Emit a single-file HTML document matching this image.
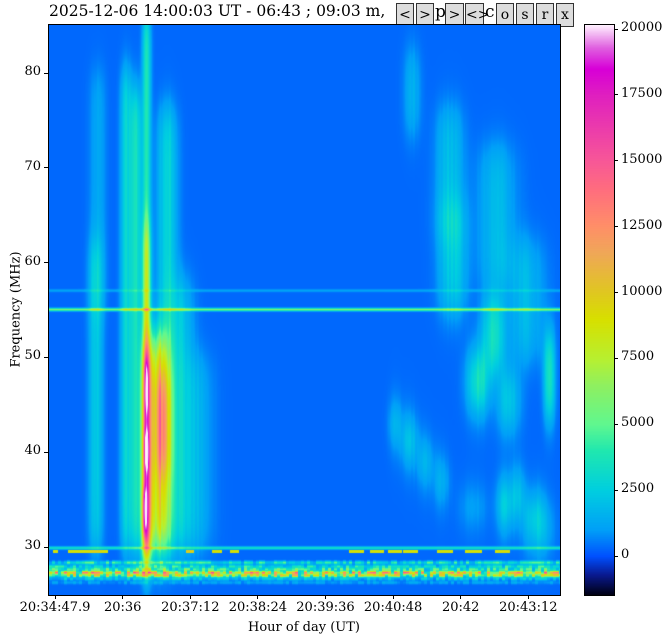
<!DOCTYPE html>
<html><head><meta charset="utf-8">
<style>
body{margin:0;background:#fff;width:671px;height:640px;position:relative;overflow:hidden;font-family:"DejaVu Serif","Liberation Serif",serif;color:#000}
.t{position:absolute;font-size:13px;white-space:nowrap}
.btn{position:absolute;top:3px;height:24px;background:#ddd;border:1px solid #333;box-sizing:border-box;font-size:14px;text-align:center;line-height:22px}
</style></head><body>
<div class="t" style="left:49px;top:2px;font-size:15.5px">2025-12-06 14:00:03 UT - 06:43 ; 09:03 m,</div>
<div class="btn" style="left:396px;width:18px">&lt;</div>
<div class="btn" style="left:416px;width:18px">&gt;</div>
<div class="t" style="left:435px;top:2px;font-size:17px">p</div>
<div class="btn" style="left:445px;width:19px">&gt;&lt;</div>
<div class="btn" style="left:465px;width:19px">&lt;&gt;</div>
<div class="t" style="left:485px;top:2px;font-size:17px">c</div>
<div class="btn" style="left:496px;width:18px">o</div>
<div class="btn" style="left:516px;width:18px">s</div>
<div class="btn" style="left:536px;width:18px">r</div>
<div class="btn" style="left:556px;width:18px">x</div>

<canvas id="spec" width="511" height="570" style="position:absolute;left:49px;top:25px"></canvas>
<div style="position:absolute;left:48px;top:24px;width:511px;height:570px;border:1px solid #000"></div>
<canvas id="cbar" width="29" height="570" style="position:absolute;left:585px;top:25px"></canvas>
<div style="position:absolute;left:584px;top:24px;width:29px;height:570px;border:1px solid #000"></div>
<div id="axes"></div>
<div class="t" style="left:248px;top:620px">Hour of day (UT)</div>
<div class="t" style="left:-42px;top:302px;transform:rotate(-90deg)">Frequency (MHz)</div>

<script>
// ---- data ----
const xTickLabels=["20:34:47.9","20:36","20:37:12","20:38:24","20:39:36","20:40:48","20:42","20:43:12"];
const xTickSeconds=[0,72.1,144.1,216.1,288.1,360.1,432.1,504.1];
const yTicks=[30,40,50,60,70,80];
const cbTicks=[0,2500,5000,7500,10000,12500,15000,17500,20000];
// streaks: [time s, fLow, fHigh, amplitude, sigmaT s]
const streakT=[97,97,97,97,95,97,110,114,75,86,119,134,43,150,45,
  362,377,394,411,445,479,492,510,450,466,423,420,380,526,483,515,470,500];
const streakFLo=[29,51,64,38.5,31.5,44.5,30,38,30,30,30,30,30,30,55,
  42,40,38,36,33.5,33,34,32.5,45,49,55,63,74,44,43,30,58,50];
const streakFHi=[51,64,86,42,36,49.5,52,48,80,78,76,58,62,50,80,
  44,42.5,40,38,35,36,37,34.5,50,56,66,76,82,52,48,34,72,62];
const streakAmp=[15800,8000,3600,5000,5000,3500,8000,5000,2800,3200,2600,1800,2000,1300,900,
  2600,3200,2800,2300,1900,3600,3000,2600,4200,3200,2200,1700,1300,3600,2600,2000,1500,1500];
const streakSig=[3.4,3,3,1.8,1.8,1.4,8,6,4,4,7,9,5,12,6,
  5,6,6,6,10,6,5,8,8,8,10,10,6,4,8,10,14,14];
// horizontal interference lines: freq, amplitude
const lineF=[55.1,57.1,29.95];
const lineAmp=[5800,900,3200];
// noisy low band rows
const bandF=[28.4,28.0,27.7,27.35,27.05,26.7,26.3];
const bandAmp=[3500,3000,4200,10000,7500,2000,900];
// yellow dashes at 29.6 MHz: start/end in seconds
const dashStart=[-3,13,139,167,186,313,335,354,370,406,436,468];
const dashEnd=[3,56,148,177,195,329,350,369,386,423,454,484];
const dashF=29.6, dashAmp=8600;

// ---- axes ----
const X0=55, PXS=0.9389;
const Y80=73, PXM=9.48;
function tToX(t){return X0+t*PXS;}
function xToT(x){return (x-X0)/PXS;}
function fToY(f){return Y80+(80-f)*PXM;}
function yToF(y){return 80-(y-Y80)/PXM;}
const CB0=556, CBS=(556-29)/20000;
function vToY(v){return CB0-v*CBS;}
function yToV(y){return (CB0-y)/CBS;}

const cmV=[-1480,-700,0,1000,2500,4000,5000,6500,7500,9000,10000,11500,12500,14000,15000,17500,18500,19300,20150];
const cmC=[[0,0,16],[10,26,144],[0,80,255],[0,160,248],[0,207,224],[32,232,176],[96,248,144],[144,240,96],[184,240,48],[216,224,0],[224,200,32],[240,168,88],[255,144,104],[255,108,128],[248,88,152],[224,32,192],[216,0,216],[224,96,224],[255,240,255]];
function cmap(v){
  if(v<=cmV[0])return cmC[0];
  for(let i=1;i<cmV.length;i++){if(v<=cmV[i]){const a=(v-cmV[i-1])/(cmV[i]-cmV[i-1]);const p=cmC[i-1],q=cmC[i];return [p[0]+(q[0]-p[0])*a,p[1]+(q[1]-p[1])*a,p[2]+(q[2]-p[2])*a];}}
  return cmC[cmC.length-1];
}
function hash(a,b){let h=(a*374761393+b*668265263)|0;h=(h^(h>>>13))*1274126177|0;return ((h^(h>>>16))>>>0)/4294967296;}
function fwin(f,lo,hi,s){const a=1/(1+Math.exp(-(f-lo)/s)),b=1/(1+Math.exp((f-hi)/s));return a*b;}

// ---- spectrogram ----
const cv=document.getElementById('spec'),ctx=cv.getContext('2d');
const W=511,H=570,img=ctx.createImageData(W,H);
for(let py=0;py<H;py++){
  const f=yToF(py+25);
  for(let px=0;px<W;px++){
    const t=xToT(px+49);
    const tex=0.85+0.3*hash(Math.floor(px/2),999);
    let v=300;
    for(let i=0;i<streakT.length;i++){
      const d=(t-streakT[i])/streakSig[i];
      if(d*d>20)continue;
      const m=i<6?1:tex;
      const s=i>=3&&i<6?0.5:1.2;
      v+=m*streakAmp[i]*Math.exp(-0.5*d*d)*fwin(f,streakFLo[i],streakFHi[i],s);
    }
    for(let i=0;i<lineF.length;i++){const d=(f-lineF[i])/0.1;v+=lineAmp[i]*Math.exp(-0.5*d*d);}
    for(let i=0;i<bandF.length;i++){const d=(f-bandF[i])/0.12;if(d*d<9){const m=0.2+1.3*hash(Math.floor(px/3),i);v+=bandAmp[i]*m*Math.exp(-0.5*d*d);}}
    if(Math.abs(f-dashF)<0.18){for(let i=0;i<dashStart.length;i++){if(t>=dashStart[i]&&t<=dashEnd[i])v+=dashAmp;}}
    const c=cmap(v),k=(py*W+px)*4;
    img.data[k]=c[0];img.data[k+1]=c[1];img.data[k+2]=c[2];img.data[k+3]=255;
  }
}
ctx.putImageData(img,0,0);

// ---- colorbar ----
const cb=document.getElementById('cbar').getContext('2d');
for(let py=0;py<570;py++){const c=cmap(yToV(py+25));cb.fillStyle=`rgb(${c[0]|0},${c[1]|0},${c[2]|0})`;cb.fillRect(0,py,29,1);}

// ---- ticks ----
const axes=document.getElementById('axes');
function mk(css,text,name){const d=document.createElement('div');d.style.cssText=css;if(text!==null){d.className='t';d.textContent=text;}


axes.appendChild(d);return d;}
xTickSeconds.forEach((s,i)=>{const x=tToX(s);
  mk(`position:absolute;left:${x-0.5}px;top:595px;width:1px;height:4px;background:#000`,null,'x-tick-mark');
  mk(`left:${x}px;top:600px;transform:translateX(-50%)`,xTickLabels[i],'x-tick-label');});
yTicks.forEach(f=>{const y=fToY(f);
  mk(`position:absolute;left:44px;top:${y-0.5}px;width:4px;height:1px;background:#000`,null,'y-tick-mark');
  mk(`right:${671-41}px;top:${y-9}px`,String(f),'y-tick-label');});
cbTicks.forEach(v=>{const y=vToY(v);
  mk(`position:absolute;left:614px;top:${y-0.5}px;width:4px;height:1px;background:#000`,null,'colorbar-tick-mark');
  mk(`left:621px;top:${y-9}px`,String(v),'colorbar-tick-label');});
</script>
</body></html>
